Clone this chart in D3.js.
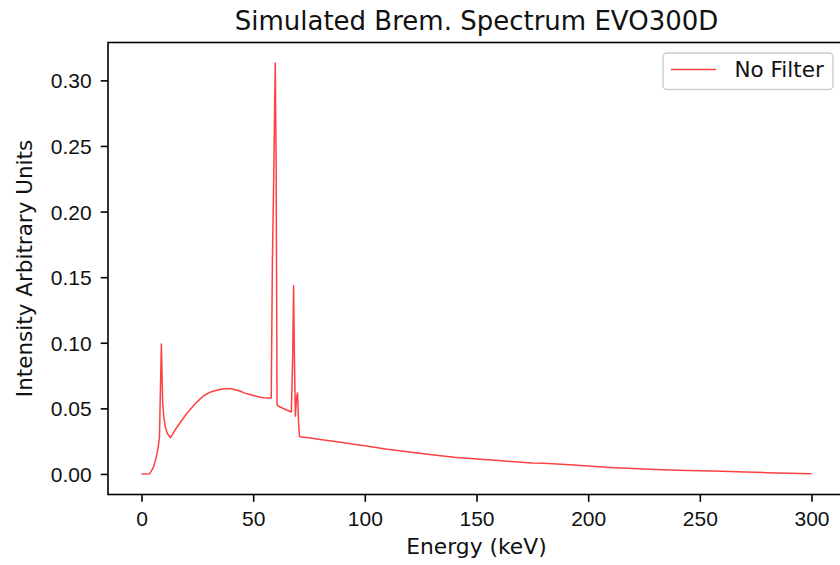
<!DOCTYPE html>
<html>
<head>
<meta charset="utf-8">
<script src="https://cdn.jsdelivr.net/npm/d3@7"></script>
<style>
    body { margin: 0; background: #fff; }
    svg { display: block; font-family: "DejaVu Sans", sans-serif; }
    .axis path, .axis line { stroke: #000; }
</style>
</head>
<body>
<svg id="chart"></svg>
<script>
// spectrum (keV, arbitrary intensity)
var energy = [
    0, 2, 3.7, 5, 5.5, 6.5, 7, 7.6, 8.05, 8.5, 8.9, 9.2, 9.5, 10, 10.7, 11.5, 13, 15, 17.4, 20,
    22, 24, 26.4, 28, 31, 34, 37, 40, 42, 44.3, 46, 48.8, 51, 53.2, 55, 57, 58.1, 58.6, 59.2, 59.6,
    59.9, 60.3, 60.7, 62, 64, 66, 67.1, 67.7, 68.1, 68.5, 68.9, 69.4, 69.9, 70.3, 70.7, 71.5, 75, 80, 85, 90,
    95, 100, 110, 120, 130, 140, 150, 160, 170, 175, 180, 190, 200, 210, 220, 230, 240, 250, 260, 270,
    280, 290, 300
];
var intensity = [
    0, 0, 0.0002, 0.004, 0.006, 0.012, 0.016, 0.022, 0.028, 0.067, 0.099, 0.075, 0.054, 0.043, 0.036, 0.031, 0.0276, 0.0335, 0.0392, 0.0455,
    0.0495, 0.0535, 0.0574, 0.0598, 0.0625, 0.064, 0.065, 0.065, 0.0642, 0.063, 0.0618, 0.0604, 0.0594, 0.0584, 0.058, 0.0578, 0.058, 0.16, 0.225, 0.278,
    0.3132, 0.23, 0.0525, 0.051, 0.0495, 0.048, 0.0472, 0.09, 0.1435, 0.085, 0.044, 0.058, 0.0617, 0.04, 0.0287, 0.0281, 0.0276, 0.0262, 0.0251, 0.0239,
    0.0226, 0.0215, 0.0189, 0.0167, 0.0146, 0.0128, 0.0114, 0.0102, 0.0089, 0.0084, 0.0081, 0.0072, 0.006, 0.005, 0.0041, 0.0034, 0.0028, 0.0024, 0.002, 0.0015,
    0.001, 0.0006, 0.0001
];
var xTicks = [0, 50, 100, 150, 200, 250, 300];
var yTicks = [0, 0.05, 0.10, 0.15, 0.20, 0.25, 0.30];
var seriesName = "No Filter";
var titleText = "Simulated Brem. Spectrum EVO300D";
var xLabel = "Energy (keV)";
var yLabel = "Intensity Arbitrary Units";

function spectrum(w, h, svg) {
    var left = 108, right = 845, top = 42.5, bottom = 494.5;
    var data = energy.map(function(e, i) { return { e: e, v: intensity[i] }; });

    svg.attr("width", w).attr("height", h);

    // matplotlib style 5% margins around the data
    var xExt = d3.extent(energy), yExt = d3.extent(intensity);
    var xPad = (xExt[1] - xExt[0]) * 0.05, yPad = (yExt[1] - yExt[0]) * 0.05;
    var xScale = d3.scaleLinear().domain([xExt[0] - xPad, xExt[1] + xPad]).range([left, right]);
    var yScale = d3.scaleLinear().domain([yExt[0] - yPad, yExt[1] + yPad]).range([bottom, top]);

    var xAxis = svg.append("g")
        .attr("class", "axis")
        .attr("transform", "translate(0," + bottom + ")")
        .call(d3.axisBottom(xScale).tickValues(xTicks).tickFormat(d3.format("d")).tickSizeInner(7.3).tickSizeOuter(0));
    xAxis.select(".domain").remove();
    xAxis.selectAll(".tick line").attr("stroke-width", 1.6);
    xAxis.selectAll(".tick text")
        .attr("y", 31)
        .attr("dy", 0)
        .style("font-size", "21px")
        .style("fill", "#111");

    var yAxis = svg.append("g")
        .attr("class", "axis")
        .attr("transform", "translate(" + left + ",0)")
        .call(d3.axisLeft(yScale).tickValues(yTicks).tickFormat(d3.format(".2f")).tickSizeInner(7.3).tickSizeOuter(0));
    yAxis.select(".domain").remove();
    yAxis.selectAll(".tick line").attr("stroke-width", 1.6);
    yAxis.selectAll(".tick text")
        .attr("x", -16.3)
        .attr("dy", "0.36em")
        .style("font-size", "21px")
        .style("fill", "#111");

    // the curve
    var line = d3.line()
        .x(function(d) { return xScale(d.e); })
        .y(function(d) { return yScale(d.v); });
    svg.append("path")
        .datum(data)
        .attr("d", line)
        .attr("fill", "none")
        .attr("stroke", "red")
        .attr("stroke-opacity", 0.75)
        .attr("stroke-width", 1.5)
        .attr("stroke-linejoin", "round");

    // frame
    svg.append("rect")
        .attr("x", left)
        .attr("y", top)
        .attr("width", right - left)
        .attr("height", bottom - top)
        .attr("fill", "none")
        .attr("stroke", "#000")
        .attr("stroke-width", 1.6);

    svg.append("text")
        .attr("x", (left + right) / 2)
        .attr("y", 30)
        .style("text-anchor", "middle")
        .style("font-size", "26px")
        .style("fill", "#111")
        .text(titleText);

    svg.append("text")
        .attr("x", (left + right) / 2)
        .attr("y", 554)
        .style("text-anchor", "middle")
        .style("font-size", "21.8px")
        .style("fill", "#111")
        .text(xLabel);

    svg.append("text")
        .attr("transform", "translate(32," + (top + bottom) / 2 + ") rotate(-90)")
        .style("text-anchor", "middle")
        .style("font-size", "21.5px")
        .style("fill", "#111")
        .text(yLabel);

    // legend box, top right
    var legend = svg.append("g").attr("transform", "translate(663,53)");
    legend.append("rect")
        .attr("width", 170)
        .attr("height", 36.5)
        .attr("rx", 4)
        .attr("fill", "#fff")
        .attr("fill-opacity", 0.8)
        .attr("stroke", "#cccccc")
        .attr("stroke-width", 1.4);
    legend.append("line")
        .attr("x1", 8)
        .attr("x2", 53)
        .attr("y1", 16.5)
        .attr("y2", 16.5)
        .attr("stroke", "red")
        .attr("stroke-opacity", 0.75)
        .attr("stroke-width", 1.5);
    legend.append("text")
        .attr("x", 71.5)
        .attr("y", 23.5)
        .style("font-size", "21.5px")
        .style("fill", "#111")
        .text(seriesName);
}

spectrum(840, 565, d3.select("#chart"));
</script>
</body>
</html>
